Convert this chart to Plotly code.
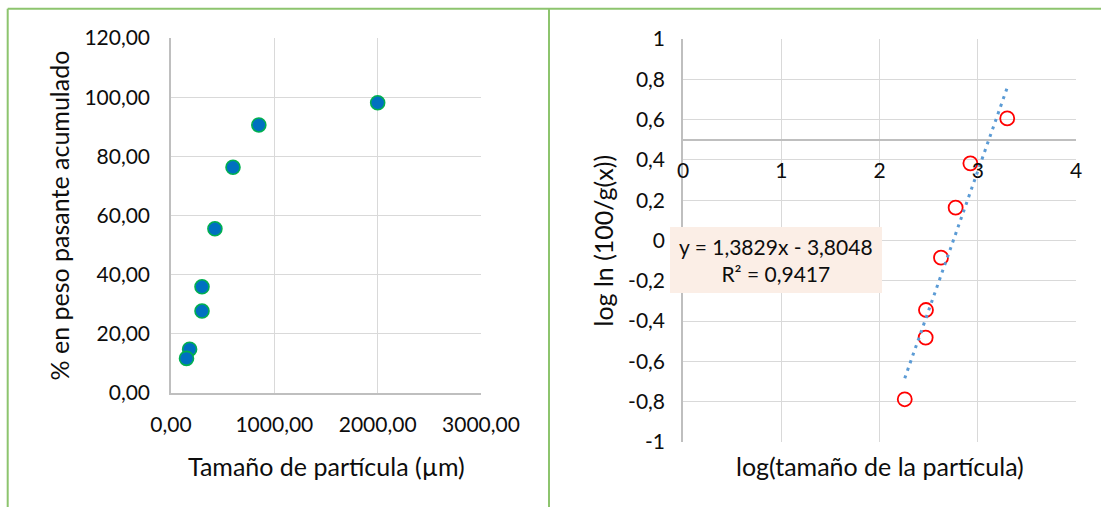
import plotly.graph_objects as go

# ---- data ----
size_um = [2000, 850, 600, 425, 300, 300, 180, 150]
pct_passing = [98.1, 90.6, 76.3, 55.5, 35.9, 27.7, 14.8, 11.7]

log_size = [3.30, 2.925, 2.775, 2.626, 2.473, 2.470, 2.257]
log_ln = [0.606, 0.383, 0.163, -0.085, -0.345, -0.482, -0.788]

trend_slope = 1.3829
trend_intercept = -3.8048
trend_label = "y = 1,3829x - 3,8048<br>R² = 0,9417"

left_x_ticks = [0, 1000, 2000, 3000]
left_x_text = ["0,00", "1000,00", "2000,00", "3000,00"]
left_y_ticks = [0, 20, 40, 60, 80, 100, 120]
left_y_text = ["0,00", "20,00", "40,00", "60,00", "80,00", "100,00", "120,00"]
right_x_ticks = [0, 1, 2, 3, 4]
right_x_text = ["0", "1", "2", "3", "4"]
right_y_ticks = [-1, -0.8, -0.6, -0.4, -0.2, 0, 0.2, 0.4, 0.6, 0.8, 1]
right_y_text = ["-1", "-0,8", "-0,6", "-0,4", "-0,2", "0", "0,2", "0,4", "0,6", "0,8", "1"]

W, H = 1101, 507
FONT = "Lato"
TXT = "#0d0d0d"
GRID = "#D9D9D9"
AXL = "#BFBFBF"
FRAME = "#8DC46E"
TICK_SIZE = 21
TITLE_SIZE = 25

def px(x):
    return x / W

def py(y):
    return 1 - y / H

fig = go.Figure()

fig.add_trace(go.Scatter(
    x=size_um, y=pct_passing, mode="markers",
    marker=dict(size=14, color="#0070C0", line=dict(color="#00B050", width=1.6)),
    xaxis="x", yaxis="y", showlegend=False, hoverinfo="skip"))

fig.add_trace(go.Scatter(
    x=log_size, y=log_ln, mode="markers",
    marker=dict(size=14, color="rgba(0,0,0,0)", line=dict(color="#FF0000", width=1.8)),
    xaxis="x2", yaxis="y2", showlegend=False, hoverinfo="skip"))

tx = [min(log_size), max(log_size)]
ty = [trend_slope * v + trend_intercept for v in tx]
fig.add_trace(go.Scatter(
    x=tx, y=ty, mode="lines",
    line=dict(color="#5B9BD5", width=3, dash="3px,5px"),
    xaxis="x3", yaxis="y2", showlegend=False, hoverinfo="skip"))

common = dict(showgrid=True, gridcolor=GRID, gridwidth=1.3, zeroline=False,
              ticks="", tickfont=dict(family=FONT, size=TICK_SIZE, color=TXT),
              tickmode="array", automargin=False)

fig.update_layout(
    width=W, height=H,
    margin=dict(l=0, r=0, t=0, b=0, pad=0, autoexpand=False),
    paper_bgcolor="white", plot_bgcolor="white",
    font=dict(family=FONT, color=TXT),
    xaxis=dict(domain=[px(171), px(481)], range=[0, 3000], anchor="y",
               tickvals=left_x_ticks, ticktext=left_x_text,
               showline=True, linecolor=AXL, linewidth=1.5,
               ticklabelstandoff=12, **common),
    yaxis=dict(domain=[py(393), py(38)], range=[0, 120], anchor="x",
               tickvals=left_y_ticks, ticktext=left_y_text,
               showline=True, linecolor=AXL, linewidth=1.5,
               ticklabelstandoff=15, **common),
    xaxis2=dict(domain=[px(683), px(1076)], range=[0, 4], anchor="y2",
                tickvals=right_x_ticks, ticktext=right_x_text,
                showticklabels=False, showline=False, **common),
    yaxis2=dict(domain=[py(442), py(39)], range=[-1, 1], anchor="x2",
                tickvals=right_y_ticks, ticktext=right_y_text,
                showline=True, linecolor=AXL, linewidth=1.5,
                ticklabelstandoff=12, **common),
    xaxis3=dict(overlaying="x2", anchor="free", position=py(139.75), range=[0, 4],
                tickvals=right_x_ticks, ticktext=right_x_text,
                showgrid=False, zeroline=False, ticks="", tickmode="array", automargin=False,
                tickfont=dict(family=FONT, size=TICK_SIZE, color=TXT),
                showline=True, linecolor=AXL, linewidth=1.5, ticklabelstandoff=12),
)

# frame lines and equation box
shapes = [
    dict(type="line", xref="paper", yref="paper", x0=px(7.7), x1=px(7.7), y0=0, y1=py(8.7),
         line=dict(color=FRAME, width=2)),
    dict(type="line", xref="paper", yref="paper", x0=px(7.7), x1=1, y0=py(8.7), y1=py(8.7),
         line=dict(color=FRAME, width=2)),
    dict(type="line", xref="paper", yref="paper", x0=px(549), x1=px(549), y0=0, y1=py(8.7),
         line=dict(color=FRAME, width=2)),
    dict(type="rect", xref="paper", yref="paper", x0=px(670), x1=px(882), y0=py(293), y1=py(227),
         fillcolor="#FBEEE6", line=dict(width=0), layer="above"),
]
fig.update_layout(shapes=shapes)

def note(text, x, y, size, angle=0):
    return dict(text=text, x=px(x), y=py(y), xref="paper", yref="paper",
                xanchor="center", yanchor="middle", showarrow=False, align="center",
                textangle=angle, font=dict(family=FONT, size=size, color=TXT))

ann = [
    note("Tamaño de partícula (µm)", 326, 466, TITLE_SIZE),
    note("log(tamaño de la partícula)", 879.5, 466, TITLE_SIZE),
    note("% en peso pasante acumulado", 58, 215.5, TITLE_SIZE, -90),
    note("log ln (100/g(x))", 602, 240.5, TITLE_SIZE, -90),
    note(trend_label, 776, 260, TICK_SIZE),
]
fig.update_layout(annotations=ann)

fig.write_html("out.html", config={"displayModeBar": False},
               post_script="document.body.style.margin='0px';")
